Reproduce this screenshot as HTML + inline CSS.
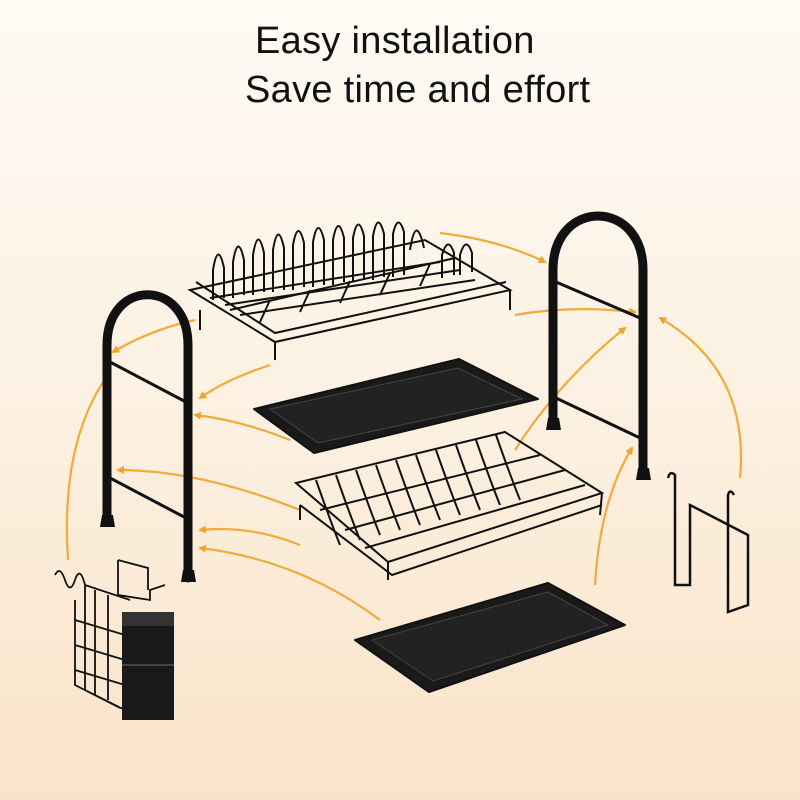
<!DOCTYPE html>
<html><head><meta charset="utf-8"><style>
html,body{margin:0;padding:0}
body{width:800px;height:800px;overflow:hidden;background:linear-gradient(180deg,#fefbf5 0%,#fcf1e2 50%,#fae3c9 100%);font-family:"Liberation Sans",sans-serif;position:relative}
.t{position:absolute;font-size:38px;color:#111;white-space:nowrap;letter-spacing:0.3px}
svg{position:absolute;left:0;top:0}
</style></head><body>
<div class="t" style="left:255px;top:20px">Easy installation</div>
<div class="t" style="left:245px;top:69px">Save time and effort</div>
<svg width="800" height="800" viewBox="0 0 800 800">
<defs>
<marker id="a" markerWidth="8" markerHeight="8" refX="6" refY="4" orient="auto" markerUnits="userSpaceOnUse"><path d="M0,0 L8,4 L0,8 Z" fill="#eea52c"/></marker>
</defs>
<g fill="none" stroke="#f0ab3a" stroke-width="2.2" marker-end="url(#a)">
<path d="M440,233 Q500,240 545,262"/>
<path d="M515,315 Q570,305 635,312"/>
<path d="M195,320 Q150,330 113,352"/>
<path d="M270,365 Q225,380 200,398"/>
<path d="M290,440 Q240,420 195,415"/>
<path d="M515,450 Q560,380 625,328"/>
<path d="M300,510 Q200,470 118,470"/>
<path d="M300,545 Q250,525 200,530"/>
<path d="M380,620 Q300,560 200,548"/>
<path d="M595,585 Q600,500 632,448"/>
<path d="M740,478 Q750,370 660,318"/>
<path d="M68,560 Q60,440 110,372"/>
</g>
<g fill="none" stroke="#111" stroke-linecap="round">
<path d="M107,520 L107,345 C107,278 188,278 188,345 L188,578" stroke-width="9"/>
<path d="M110,362 L186,402 M110,478 L186,518" stroke-width="3"/>
</g>
<path d="M102,515 h11 l2,12 h-15z M183,570 h11 l2,12 h-15z" fill="#111"/>
<g fill="none" stroke="#111" stroke-linecap="round">
<path d="M553,425 L553,270 C553,198 643,198 643,270 L643,474" stroke-width="9"/>
<path d="M556,282 L640,318 M556,398 L640,438" stroke-width="3"/>
</g>
<path d="M548,418 h11 l2,12 h-15z M638,468 h11 l2,12 h-15z" fill="#111"/>
<g fill="none" stroke="#111" stroke-width="2">
<path d="M190,290 L275,342 L510,290 L425,240 Z"/>
<path d="M196,282 L275,333 L506,282"/>
<path d="M200,310 L200,330 M275,342 L275,360 M510,290 L510,310"/>
<path d="M213,300 L213,270 Q218,240 224,268 L224,298 M233,298 L233,262 Q238,232 244,260 L244,295 M253,295 L253,255 Q258,225 264,253 L264,292 M273,292 L273,250 Q278,220 284,248 L284,290 M293,290 L293,245 Q298,218 304,243 L304,287 M313,287 L313,242 Q318,215 324,240 L324,285 M333,285 L333,240 Q338,213 344,238 L344,282 M353,282 L353,238 Q358,212 364,236 L364,280 M373,280 L373,236 Q378,210 384,234 L384,277 M393,277 L393,234 Q398,212 404,232 L404,275 M410,250 Q416,212 424,248 M442,278 L442,255 Q448,235 454,253 L454,275 M460,275 L460,255 Q466,235 472,253 L472,272"/>
<path d="M210,298 L440,262 M225,305 L460,270 M240,315 L475,280"/>
<path d="M230,310 L455,258 M260,322 L270,300 M300,312 L310,290 M340,303 L350,281 M380,295 L390,273 M420,286 L430,264"/>
</g>
<path d="M254,409 L459,359 L538,399 L314,453 Z" fill="#1a1a1a" stroke="#111" stroke-width="2" stroke-linejoin="round"/>
<path d="M270,409 L458,368 L522,399 L318,443 Z" fill="#222" stroke="#444" stroke-width="1"/>
<g fill="none" stroke="#111" stroke-width="2">
<path d="M296,483 L505,432 L602,493 L388,562 Z"/>
<path d="M300,505 L392,575 L602,505"/>
<path d="M300,505 L300,520 M388,562 L388,580 M602,493 L600,515"/>
<path d="M316,480 Q330,520 340,545 M336,475 Q350,515 360,540 M356,470 Q370,510 380,535 M376,465 Q390,505 400,530 M396,460 Q410,500 420,525 M416,455 Q430,495 440,520 M436,450 Q450,490 460,515 M456,445 Q470,485 480,510 M476,440 Q490,480 500,505 M496,435 Q510,475 520,500"/>
<path d="M320,510 L540,455 M345,530 L565,470 M365,548 L585,485"/>
</g>
<path d="M355,640 L548,583 L625,625 L429,692 Z" fill="#1a1a1a" stroke="#111" stroke-width="2" stroke-linejoin="round"/>
<path d="M372,640 L548,592 L608,625 L433,681 Z" fill="#222" stroke="#444" stroke-width="1"/>
<g fill="none" stroke="#111" stroke-width="2.5">
<path d="M668,478 Q670,470 675,475 L675,585 L690,585 L690,505 L748,535 L748,605 L728,612 L728,495 Q730,488 734,495"/>
</g>
<g fill="none" stroke="#111" stroke-width="1.8">
<path d="M55,575 Q60,565 65,580 Q70,595 75,580 Q80,565 85,585 L85,690 L125,710 M85,585 L130,600 M75,600 L75,685 L120,708 M95,590 L95,695 M108,595 L108,700 M75,620 L125,635 M75,645 L125,660 M75,670 L125,685 M118,560 L118,595 L150,600 L150,590 L165,585 M118,560 L148,568 L148,590"/>
</g>
<rect x="122" y="612" width="52" height="108" fill="#1a1a1a"/>
<rect x="122" y="612" width="52" height="14" fill="#333"/>
<line x1="122" y1="665" x2="174" y2="665" stroke="#444" stroke-width="2"/>
</svg>
</body></html>
